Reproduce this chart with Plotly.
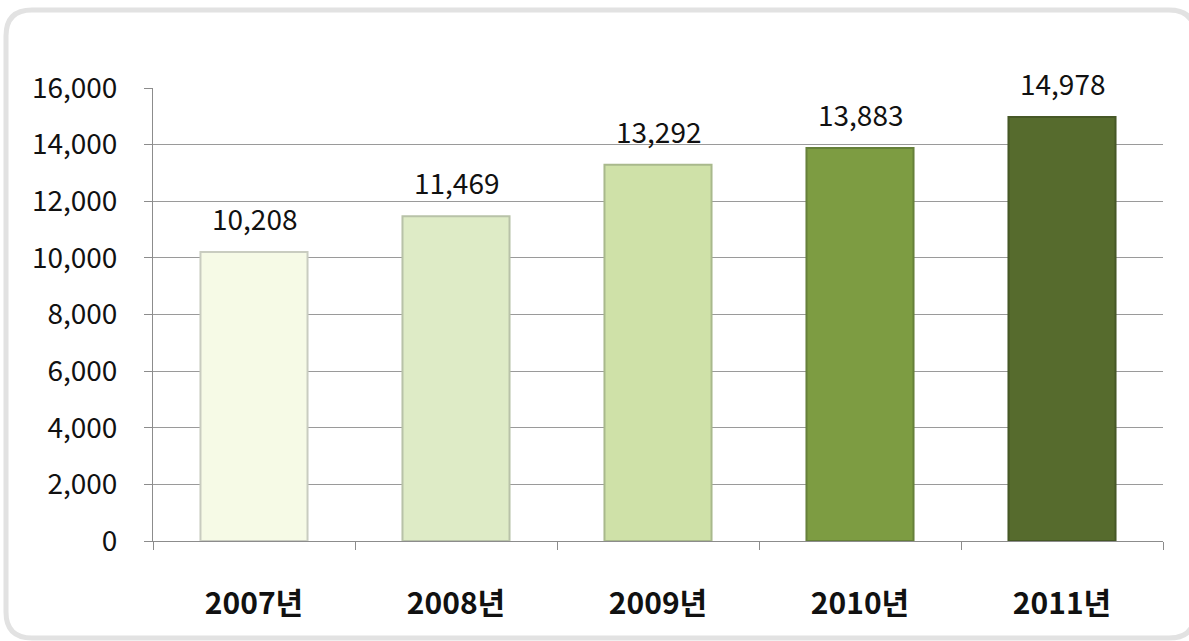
import plotly.graph_objects as go

categories = ["2007년", "2008년", "2009년", "2010년", "2011년"]
values = [10208, 11469, 13292, 13883, 14978]
bar_colors = ["#F6FAE6", "#DEEBC6", "#CFE1A8", "#7D9C42", "#566B2D"]
line_colors = ["#C9CCC0", "#B8C2A8", "#A9B98C", "#66803A", "#465826"]
y_ticks = [0, 2000, 4000, 6000, 8000, 10000, 12000, 14000, 16000]

W, H = 1189, 641
L, R, T, B = 153, 26, 88, 100
pw, ph = W - L - R, H - T - B

FONT = "Noto Sans CJK KR"

fig = go.Figure()
fig.add_trace(go.Bar(
    x=categories, y=values,
    marker=dict(color=bar_colors, line=dict(color=line_colors, width=2)),
    width=0.53,
    hoverinfo="x+y",
))

for c, v in zip(categories, values):
    fig.add_annotation(
        x=c, y=v, text=f"{v:,}", showarrow=False,
        yanchor="bottom", xanchor="center", yshift=12,
        font=dict(family=FONT, size=28, color="#111111"),
    )

def px(x):
    return (x - L) / pw

def py(y):
    return (H - B - y) / ph

x0, x1, y0, y1, r = 6, 1195, 10, 638, 26
path = (f"M {px(x0+r)},{py(y0)} L {px(x1-r)},{py(y0)} "
        f"Q {px(x1)},{py(y0)} {px(x1)},{py(y0+r)} "
        f"L {px(x1)},{py(y1-r)} Q {px(x1)},{py(y1)} {px(x1-r)},{py(y1)} "
        f"L {px(x0+r)},{py(y1)} Q {px(x0)},{py(y1)} {px(x0)},{py(y1-r)} "
        f"L {px(x0)},{py(y0+r)} Q {px(x0)},{py(y0)} {px(x0+r)},{py(y0)} Z")

fig.update_layout(
    width=W, height=H,
    margin=dict(l=L, r=R, t=T, b=B),
    paper_bgcolor="white", plot_bgcolor="white",
    showlegend=False,
    shapes=[dict(type="path", xref="paper", yref="paper", path=path,
                 line=dict(color="#E2E2E2", width=5), fillcolor="rgba(0,0,0,0)",
                 layer="below")],
    xaxis=dict(
        showline=True, linecolor="#8C8C8C", linewidth=1,
        ticks="outside", ticklen=8, tickcolor="#8C8C8C", tickson="boundaries",
        tickfont=dict(family=FONT, size=30, color="#111111", weight="bold"),
        ticklabelstandoff=36,
        showgrid=False,
    ),
    yaxis=dict(
        range=[0, 16000], tickvals=y_ticks,
        ticktext=[f"{v:,}" for v in y_ticks],
        showline=True, linecolor="#8C8C8C", linewidth=1,
        ticks="outside", ticklen=8, tickcolor="#8C8C8C",
        showgrid=True, gridcolor="#9A9A9A", gridwidth=1,
        tickfont=dict(family=FONT, size=28, color="#111111"),
        ticklabelstandoff=21,
        zeroline=False,
    ),
)

fig.write_html("out.html",
               config={"displayModeBar": False},
               post_script="document.body.style.margin='0';document.body.style.overflow='hidden';")
